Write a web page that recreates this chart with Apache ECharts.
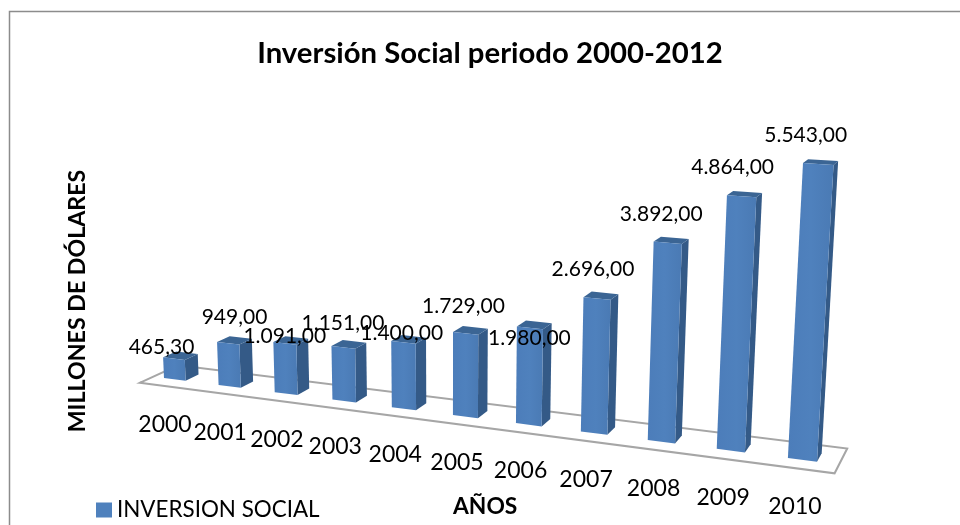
<!DOCTYPE html>
<html><head><meta charset="utf-8">
<script src="https://cdn.jsdelivr.net/npm/echarts@6/dist/echarts.min.js"></script>
<style>html,body{margin:0;background:#fff}#c{width:960px;height:525px}</style></head>
<body><div id="c"></div>
<script>
const years = [2000,2001,2002,2003,2004,2005,2006,2007,2008,2009,2010];
const values = [465.30,949,1091,1151,1400,1729,1980,2696,3892,4864,5543];
const seriesName = 'INVERSION SOCIAL';
const titleText = 'Inversión Social periodo 2000-2012';
const xName = 'AÑOS';
const yName = 'MILLONES DE DÓLARES';

// layout only: Excel placed some labels by hand, pixel nudges from the bar top
const labelNudgeX = [-19,0,-6,-6,-7,-7,-5,-8,-10,-12,-15];
const labelNudgeY = [15,0,19,2,17,-1,36,-3,-3,-4,-4];
const FONT = 'Lato';
const G = {left:164, width:515.8, top:96, height:282};
const base = G.top + G.height;

// Perspective projection of the flat grid plane (z = bar depths toward the back)
function project(p, z){
  const gx = p[0], gy = p[1];
  const W = 1 - 0.000266*(gx-G.left) + 0.0001426*(gy-base) + 0.0141*z;
  return [(gx + 0.0645*(gy-base) + 15.6*z)/W, (gy + 0.03315*(gx-G.left) - 0.846*z)/W];
}
const fmt = v => {
  const [a,b] = v.toFixed(2).split('.');
  return a.replace(/\B(?=(\d{3})+$)/g,'.') + ',' + b;
};
const poly = (pts, fill, extra) => ({type:'polygon', shape:{points:pts}, style:Object.assign({fill}, extra||{})});

function renderBar(params, api){
  const y = api.value(0), v = api.value(1), i = params.dataIndex, w = 0.4;
  const L0 = api.coord([y,0]), R0 = api.coord([y+w,0]), L1 = api.coord([y,v]), R1 = api.coord([y+w,v]);
  const fl0=project(L0,0), fr0=project(R0,0), fl1=project(L1,0), fr1=project(R1,0);
  const br0=project(R0,1), br1=project(R1,1), bl1=project(L1,1);
  const mid = project(api.coord([y+w/2,v]),0.5);
  return {type:'group', children:[
    poly([fr0,br0,br1,fr1],'#345a87'),
    poly([fl1,fr1,br1,bl1],'#3b6594'),
    poly([fl0,fr0,fr1,fl1],new echarts.graphic.LinearGradient(0,0,1,0,[{offset:0,color:'#4c7dba'},{offset:.5,color:'#4f81bd'},{offset:1,color:'#4a7ab4'}])),
    {type:'text', z2:20, x:mid[0]+labelNudgeX[i], y:mid[1]-23+labelNudgeY[i],
      style:{text:fmt(v), font:`21px ${FONT}`, fill:'#000', align:'center', verticalAlign:'middle'}},
    {type:'text', z2:20, x:fl0[0]+1+i*0.6, y:fl0[1]+47+i*0.15,
      style:{text:String(y), font:`23px ${FONT}`, fill:'#000', align:'center', verticalAlign:'middle'}}
  ]};
}
function renderFloor(params, api){
  const a = api.coord([years[0]-0.2,0]), b = api.coord([years[years.length-1]+0.7,0]);
  return poly([project(a,-1),project(b,-1),project(b,1.9),project(a,1.9)],'#fff',{stroke:'#a6a6a6',lineWidth:2});
}

const chart = echarts.init(document.getElementById('c'),null,{renderer:'canvas'});
chart.setOption({
  animation:false,
  backgroundColor:'#fff',
  title:{text:titleText,left:485,top:34,textAlign:'center',textStyle:{fontFamily:FONT,fontWeight:'bold',fontSize:29.3,color:'#000'}},
  legend:{left:91,top:494,itemWidth:16,itemHeight:15,itemGap:0,icon:'rect',
    data:[{name:seriesName}],selectedMode:false,textStyle:{fontFamily:FONT,fontSize:22.4,color:'#000'}},
  grid:{left:G.left,width:G.width,top:G.top,height:G.height},
  xAxis:{type:'value',min:2000,max:2010,interval:1,show:false},
  yAxis:{type:'value',min:0,max:6000,interval:1000,show:false},
  graphic:[
    {type:'rect',z:-10,silent:true,shape:{x:9.5,y:11.5,width:1000,height:600},style:{fill:'none',stroke:'#8c8c8c',lineWidth:1.5}},
    {type:'text',left:453,top:495,style:{text:xName,font:`bold 22.8px ${FONT}`,fill:'#000'}},
    {type:'text',x:78,y:301,rotation:Math.PI/2,style:{text:yName,font:`bold 23.2px ${FONT}`,fill:'#000',align:'center',verticalAlign:'middle'}}
  ],
  series:[
    {type:'custom',name:'piso',silent:true,z:1,renderItem:renderFloor,data:[[years[0],0]],clip:false},
    {type:'custom',name:seriesName,z:2,renderItem:renderBar,clip:false,
      encode:{x:0,y:1},itemStyle:{color:'#4f81bd'},
      data:years.map((y,i)=>[y,values[i]])}
  ]
});
</script></body></html>
